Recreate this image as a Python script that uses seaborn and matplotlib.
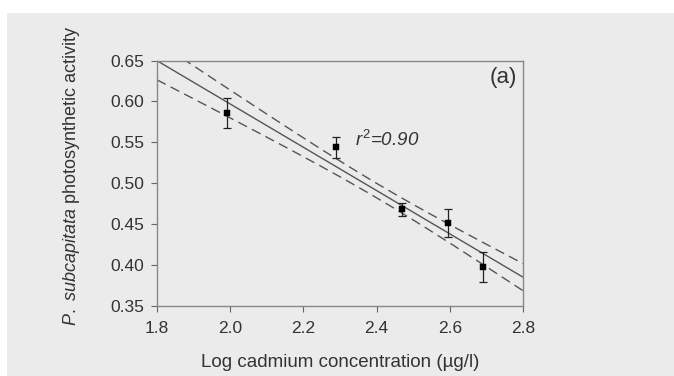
import numpy as np
import pandas as pd
import matplotlib
matplotlib.use("Agg")
import matplotlib.pyplot as plt
import seaborn as sns
from matplotlib.patches import Rectangle

# Data
log_cd = [1.99, 2.29, 2.468, 2.594, 2.69]
activity = [0.586, 0.544, 0.468, 0.451, 0.398]
activity_err = [0.018, 0.013, 0.008, 0.017, 0.018]
x_ticks = [1.8, 2.0, 2.2, 2.4, 2.6, 2.8]
y_ticks = [0.35, 0.40, 0.45, 0.50, 0.55, 0.60, 0.65]
r2_text = "0.90"

sns.set_theme(style="ticks")
plt.rcParams["font.family"] = ["Liberation Sans", "DejaVu Sans"]
plt.rcParams["mathtext.fontset"] = "custom"
plt.rcParams["mathtext.rm"] = "Liberation Sans"
plt.rcParams["mathtext.it"] = "Liberation Sans:italic"

bg = "#ebebeb"
txt = "#333333"
fig = plt.figure(figsize=(6.74, 3.76), dpi=100, facecolor="white")
fig.patches.append(Rectangle((0.011, 0), 0.989, 0.966, transform=fig.transFigure,
                             facecolor=bg, edgecolor="none", zorder=-10))
ax = fig.add_axes([0.233, 0.186, 0.543, 0.653])
ax.set_facecolor(bg)

df = pd.DataFrame({"x": log_cd, "y": activity})

# regression and +/- 1 SE band of the mean prediction
xa = np.array(log_cd)
ya = np.array(activity)
slope, intercept = np.polyfit(xa, ya, 1)
resid = ya - (slope * xa + intercept)
s = np.sqrt(np.sum(resid ** 2) / (len(xa) - 2))
sxx = np.sum((xa - xa.mean()) ** 2)
xs = np.linspace(x_ticks[0], x_ticks[-1], 200)
fit = slope * xs + intercept
se = s * np.sqrt(1 / len(xa) + (xs - xa.mean()) ** 2 / sxx)
fit_df = pd.DataFrame({"x": xs, "fit": fit, "lo": fit - se, "hi": fit + se})

sns.lineplot(data=fit_df, x="x", y="fit", ax=ax, color="#555555", lw=1.0)
for col in ["lo", "hi"]:
    sns.lineplot(data=fit_df, x="x", y=col, ax=ax, color="#555555", lw=1.0,
                 dashes=False, linestyle=(0, (7, 4)))

ax.errorbar(log_cd, activity, yerr=activity_err, fmt="none", ecolor="#222222",
            elinewidth=0.9, capsize=3, capthick=0.9, zorder=3)
sns.scatterplot(data=df, x="x", y="y", ax=ax, marker="s", s=15, color="black",
                edgecolor="black", zorder=4)

ax.set_xlim(x_ticks[0], x_ticks[-1])
ax.set_ylim(y_ticks[0], y_ticks[-1])
ax.set_xticks(x_ticks)
ax.set_yticks(y_ticks)
ax.set_xticklabels([f"{v:.1f}" for v in x_ticks])
ax.set_yticklabels([f"{v:.2f}" for v in y_ticks])
ax.tick_params(axis="both", direction="out", length=4, width=0.8, color="#666666",
               labelsize=12.5, labelcolor=txt)
ax.tick_params(axis="x", pad=7)
ax.tick_params(axis="y", pad=5)
for sp in ax.spines.values():
    sp.set_visible(True)
    sp.set_color("#888888")
    sp.set_linewidth(1.0)

ax.set_xlabel("Log cadmium concentration (\u00b5g/l)", fontsize=13.5, color=txt, labelpad=13)
ax.set_ylabel(r"$\mathit{P.\ subcapitata}$ photosynthetic activity", fontsize=13,
              color=txt)
ax.yaxis.set_label_coords(-0.205, 0.53)

ax.text(2.71, 0.629, "(a)", fontsize=16, color=txt, ha="left", va="center")
ax.text(2.34, 0.553, r"$\mathit{r}^{2}$" + "=" + r2_text, fontsize=13.5, style="italic",
        color=txt, ha="left", va="center")

fig.savefig("out.png", dpi=100, facecolor=fig.get_facecolor())
